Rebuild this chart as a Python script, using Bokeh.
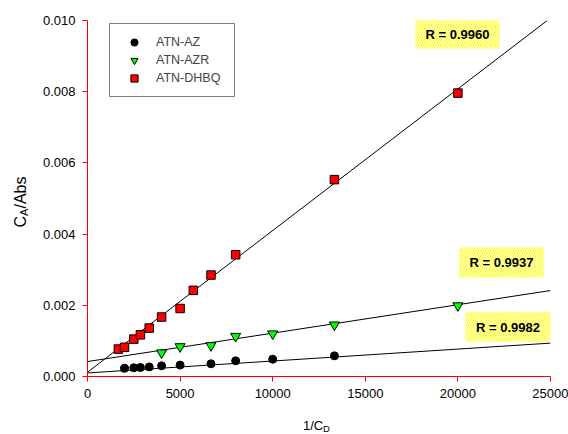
import math
from bokeh.plotting import figure
from bokeh.models import Range1d, FixedTicker, NumeralTickFormatter, Legend, LegendItem, Label
from bokeh.embed import file_html
from bokeh.resources import INLINE

# Measured series: x = 1/C_D, y = C_A/Abs
az_x = [2000, 2500, 2857, 3333, 4000, 5000, 6667, 8000, 10000, 13333]
az_y = [0.00023, 0.000245, 0.000253, 0.00027, 0.0003, 0.00032, 0.000357, 0.00044, 0.000486, 0.00058]

azr_x = [4000, 5000, 6667, 8000, 10000, 13333, 20000]
azr_y = [0.000666, 0.00084, 0.00087, 0.00113, 0.0012, 0.00145, 0.00199]

dhbq_x = [1667, 2000, 2500, 2857, 3333, 4000, 5000, 5714, 6667, 8000, 13333, 20000]
dhbq_y = [0.00077, 0.00082, 0.00105, 0.00117, 0.00136, 0.00167, 0.00191, 0.00242, 0.00285, 0.00342, 0.00553, 0.00796]

# Linear regression for each series (order: AZ, AZR, DHBQ)
series_names = ["ATN-AZ", "ATN-AZR", "ATN-DHBQ"]
fit_intercept = [0.00010, 0.00042, 0.00012]
fit_slope = [3.35e-8, 7.98e-8, 3.98e-7]
r_values = ["0.9982", "0.9937", "0.9960"]

x_ticks = [0, 5000, 10000, 15000, 20000, 25000]
y_ticks = [0.000, 0.002, 0.004, 0.006, 0.008, 0.010]

X_MAX, Y_MAX = 25000, 0.010
FONT = "Liberation Sans"

# frame geometry in pixels, used to place annotations
F_LEFT, F_RIGHT, F_TOP, F_BOTTOM = 87, 550, 20, 376


def dx(px):
    return (px - F_LEFT) / (F_RIGHT - F_LEFT) * X_MAX


def dy(py):
    return (F_BOTTOM - py) / (F_BOTTOM - F_TOP) * Y_MAX


p = figure(width=568, height=434, x_range=Range1d(0, X_MAX), y_range=Range1d(0, Y_MAX),
           output_backend="svg", toolbar_location=None,
           min_border_left=F_LEFT, min_border_right=568 - F_RIGHT,
           min_border_top=F_TOP, min_border_bottom=434 - F_BOTTOM)
p.outline_line_color = None
p.grid.visible = False
p.background_fill_color = "white"
p.border_fill_color = "white"

for ax in (p.xaxis[0], p.yaxis[0]):
    ax.axis_line_color = "#ff0000"
    ax.major_tick_line_color = "#ff0000"
    ax.minor_tick_line_color = None
    ax.major_tick_out = 5
    ax.major_tick_in = 0
    ax.major_label_text_font = FONT
    ax.major_label_text_font_size = "13px"
    ax.major_label_text_color = "black"
    ax.major_label_standoff = 7
p.xaxis.ticker = FixedTicker(ticks=x_ticks)
p.yaxis.ticker = FixedTicker(ticks=y_ticks)
p.yaxis.formatter = NumeralTickFormatter(format="0.000")
p.xaxis.formatter = NumeralTickFormatter(format="0")

# regression lines, from x = 0 up to the plot edge
for b, m in zip(fit_intercept, fit_slope):
    x_end = min(X_MAX, (Y_MAX - b) / m)
    p.line([0, x_end], [b, b + m * x_end], line_color="black", line_width=1)

r_az = p.scatter(az_x, az_y, marker="circle", size=8, fill_color="black", line_color="black")
r_azr = p.scatter(azr_x, azr_y, marker="inverted_triangle", size=10, fill_color="#00ff00",
                  line_color="black", line_width=1)
r_dhbq = p.scatter(dhbq_x, dhbq_y, marker="square", size=8.5, fill_color="#ff0000",
                   line_color="black", line_width=1)

# correlation coefficient tags (hatched yellow boxes)
tag_boxes = [  # left, right, bottom, top in pixels
    (465, 550, 341, 312),
    (459, 543, 277, 247),
    (415, 499, 48, 19),
]
for (l, r, b, t), rv in zip(tag_boxes, r_values):
    p.quad(left=[dx(l)], right=[dx(r)], bottom=[dy(b)], top=[dy(t)],
           fill_color="#ffff00", line_color=None,
           hatch_pattern="/", hatch_color="white", hatch_scale=5, hatch_weight=1.2)
    p.add_layout(Label(x=dx((l + r) / 2), y=dy((t + b) / 2), text=f"R = {rv}",
                       text_align="center", text_baseline="middle",
                       text_font=FONT, text_font_size="13px", text_font_style="bold",
                       text_color="black"))

legend = Legend(items=[LegendItem(label=n, renderers=[r]) for n, r in
                       zip(series_names, [r_az, r_azr, r_dhbq])],
                location=(22, 279), orientation="vertical",
                border_line_color="black", border_line_width=1,
                background_fill_color="white", background_fill_alpha=1,
                padding=9, spacing=0, margin=0,
                glyph_width=30, glyph_height=18, label_height=18, label_width=69,
                label_standoff=7, label_text_font=FONT, label_text_font_size="12.5px")
p.add_layout(legend)


# axis titles with subscripts; placed in the side panels so they are not clipped
def title_piece(x, y, text, size, side, angle=0.0):
    p.add_layout(Label(x=x, y=y, text=text, angle=angle, text_align="left",
                       text_baseline="alphabetic", text_font=FONT,
                       text_font_size=size, text_color="black"), side)


title_piece(dx(302.5), dy(425), "1/C", "13px", "below")
title_piece(dx(322.5), dy(428), "D", "9.5px", "above")

title_piece(dx(20), dy(227), "C", "16px", "left", math.pi / 2)
title_piece(dx(23), dy(215.5), "A", "11px", "right", math.pi / 2)
title_piece(dx(20), dy(208), "/Abs", "16px", "left", math.pi / 2)

open("out.html", "w").write(file_html(p, INLINE))
